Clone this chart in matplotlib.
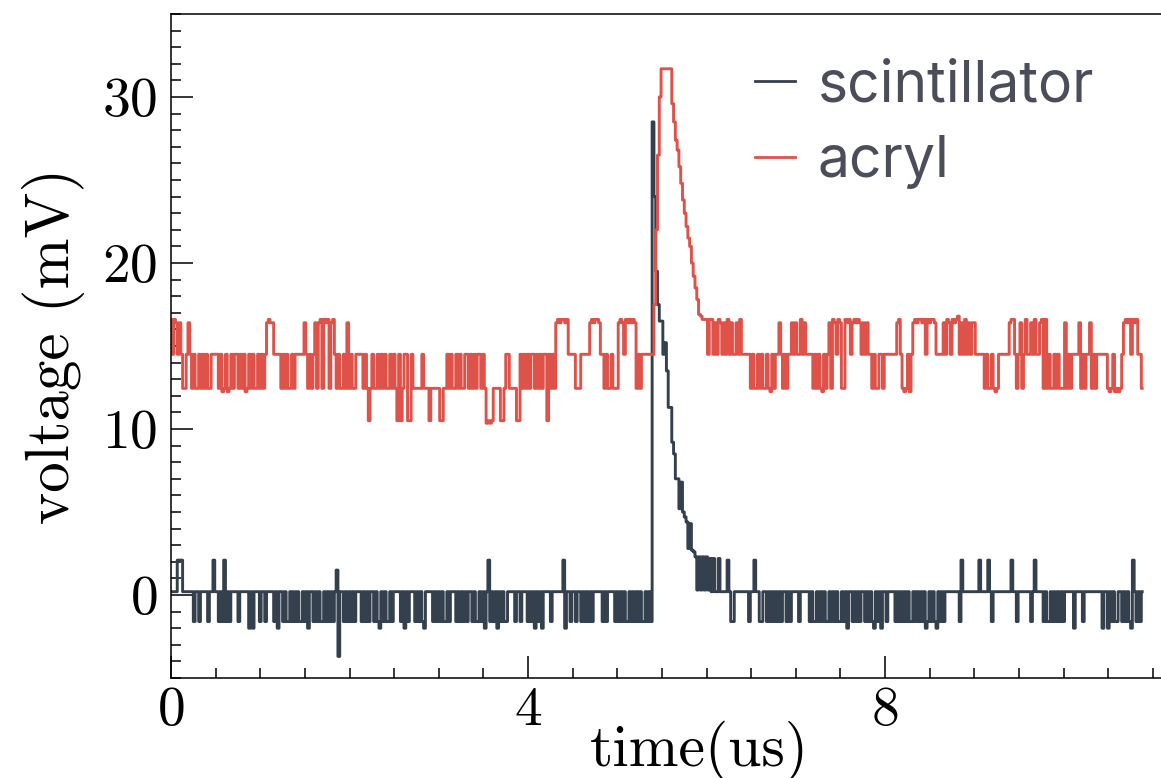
import numpy as np
import matplotlib.pyplot as plt
from matplotlib.ticker import MultipleLocator

# sampling step of the scope traces (us)
dt = 0.02

# level codes (one character = one sample)
scint_levels = {'0': 0.2, 'd': -1.6, 'D': -2.0, 'u': 2.1, 'p': 1.5, 'x': -3.7}
acryl_levels = {'0': 14.5, 'h': 16.4, 'H': 16.6, 'T': 16.8,
                'l': 12.45, 'L': 12.25, 'm': 10.5, 'M': 10.35}

# scintillator, t = 0.00 .. 5.38
scint_pre = ("0000uuu000" "000d00d000" "0d00u00d0d" "ud0d0000d0" "0000D0D000"
             "d00d0000d0" "D00d0dd0d0" "d0dd0d0D00" "d0d0dd0d0d" "0d0px00d0d"
             "0d0d000d0d" "0d00d0dD0d" "0dd0d0000d" "0D0d000d0d" "0dD0000d0d"
             "0d0dd0d000" "d0d0d0d00d" "0dd0d0D0ud" "0d0D0d0dd0" "000d00d000"
             "d0d0D0d0D0" "000d000000" "uD00d00d00" "d0d0d0d000" "00d0d0000d"
             "0d0d0dd0d0" "d0d0dd0d0d")
# scintillator pulse, t = 5.40 .. 6.18
scint_pulse = [28.5, 24.0, 19.5, 17.5, 16.5, 16.5, 14.5, 15.2, 13.5, 11.3,
               11.3, 9.2, 8.5, 7.0, 7.0, 5.2, 6.8, 5.0, 4.7, 4.4,
               2.8, 4.3, 2.7, 2.6, 2.3, 0.3, 2.3, 0.3, 2.3, 0.3,
               2.3, 0.3, 2.2, 0.2, 2.2, 0.2, 0.2, 2.2, 0.2, 0.2]
# scintillator, t = 6.20 .. 10.88
scint_post = ("00u0dd0000" "0000d00u00" "dd00d0d0d0" "d0d00d0d00"
              "00d00000d0" "dd0d0d0dd0" "d0d0dd0d0D" "00d0d0d00d" "0d0dD0d0D0"
              "0d0000d0d0" "d0d0dd0d0d" "0d0Dd0d0dD" "0d0d000000" "00du000000"
              "000u0000u0" "d000000000" "0u00d00000" "00d0u0000d" "0dd0d0d0d0"
              "d00000D000" "0d00000000" "00D00D0d0d" "d00d0d0dDu" "0d0d0")

# acryl, t = 0.00 .. 5.38
acryl_pre = ("H0Hh0h0ll0" "h0l0ll0l0l" "0ll0000l0L" "l0Ll0l00l0" "l0Ll0l0ll0"
             "l0l0hHhh00" "00l0l0ll0l" "00000h0l0l" "0hlhHlHhHl" "hH0l0ll0lh"
             "l0ll0000l0" "lml0ll0l0l" "0ll0l0lm0m" "l00mm0llll" "l0lllmllll"
             "lmmll0l0ll" "0l0ll00l0l" "0l00l0lMmM" "mllllmml00" "llllmm0l0l"
             "0l00l0l0l0" "0m0l0lhHhH" "HhH0000lll" "00000hHhHH" "h00l0ll0ll"
             "lhHh0HhHhH" "hl0l000000")
# acryl pulse, t = 5.40 .. 6.18
acryl_pulse = [14.5, 17.5, 22.0, 26.5, 30.0, 31.7, 31.7, 31.7, 31.7, 31.7,
               31.7, 29.6, 28.5, 27.4, 26.8, 25.8, 24.8, 23.8, 23.0, 22.2,
               21.5, 21.0, 20.0, 19.2, 18.5, 17.8, 16.9, 16.8, 16.6, 16.6,
               16.6, 14.5, 16.6, 16.6, 14.5, 16.4, 14.5, 16.6, 16.4, 14.5]
# acryl, t = 6.20 .. 10.88
acryl_post = ("h0H0h00h0H" "00000l0ll0" "l0ll0lL0l0" "0h0l0l00h0"
              "h00H0h0000" "l0l0lL0l0h" "lHh0HhllHh" "H0hHhHh0h0" "h00l0ll00l"
              "0000000hH0" "lLl0L0hHhH" "HhH0HhHHh0" "000h0Hh0Hh" "HT0h0H0h0h"
              "h00000l0ll" "0lLl000000" "hHH0l0hl0H" "00h0H00hHl" "Hl0ll0l0ll"
              "lhl0l0000h" "l0l00hl0l0" "00000lLl0L" "lLl0hHhH0H" "hH00l")

labels = ["scintillator", "acryl"]
colors = ["#35404f", "#de524a"]

scint = [scint_levels[c] for c in scint_pre] + scint_pulse + [scint_levels[c] for c in scint_post]
acryl = [acryl_levels[c] for c in acryl_pre] + acryl_pulse + [acryl_levels[c] for c in acryl_post]
t = np.arange(len(scint)) * dt

plt.rcParams['font.family'] = 'cmr10'
plt.rcParams['axes.formatter.use_mathtext'] = True

fig = plt.figure(figsize=(11.61, 7.78), dpi=100)
# axes run past the right edge of the picture, as in the reference crop
ax = fig.add_axes([171 / 1161, 100 / 778, 1056 / 1161, 664 / 778])

ax.plot(t, scint, color=colors[0], lw=2.1, drawstyle='steps-mid', label=labels[0])
ax.plot(t, acryl, color=colors[1], lw=2.1, drawstyle='steps-mid', label=labels[1])

ax.set_xlim(0, 11.83)
ax.set_ylim(-5, 35)
ax.xaxis.set_major_locator(MultipleLocator(4))
ax.xaxis.set_minor_locator(MultipleLocator(0.5))
ax.yaxis.set_major_locator(MultipleLocator(10))
ax.yaxis.set_minor_locator(MultipleLocator(1))
ax.tick_params(which='both', direction='in', width=1.1, labelsize=40)
ax.tick_params(which='major', length=16)
ax.tick_params(which='minor', length=7)
ax.tick_params(axis='x', which='major', pad=6)
ax.tick_params(axis='y', which='major', pad=10)
ax.spines['right'].set_visible(False)
for s in ['left', 'bottom', 'top']:
    ax.spines[s].set_linewidth(1.1)

ax.set_xlabel("time(us)", fontsize=43, labelpad=-11)
ax.set_ylabel("voltage (mV)", fontsize=44, labelpad=12)

leg = ax.legend(loc='upper left', bbox_to_anchor=(755 / 1161, 1 - 59 / 778),
                bbox_transform=fig.transFigure, frameon=False,
                prop={'family': 'Inter', 'size': 41},
                handlelength=0.7, handletextpad=0.4, labelspacing=0.38,
                borderpad=0, borderaxespad=0)
for txt in leg.get_texts():
    txt.set_color("#4b4e5a")
for line in leg.get_lines():
    line.set_linewidth(2.0)

fig.savefig("out.png", dpi=100)
